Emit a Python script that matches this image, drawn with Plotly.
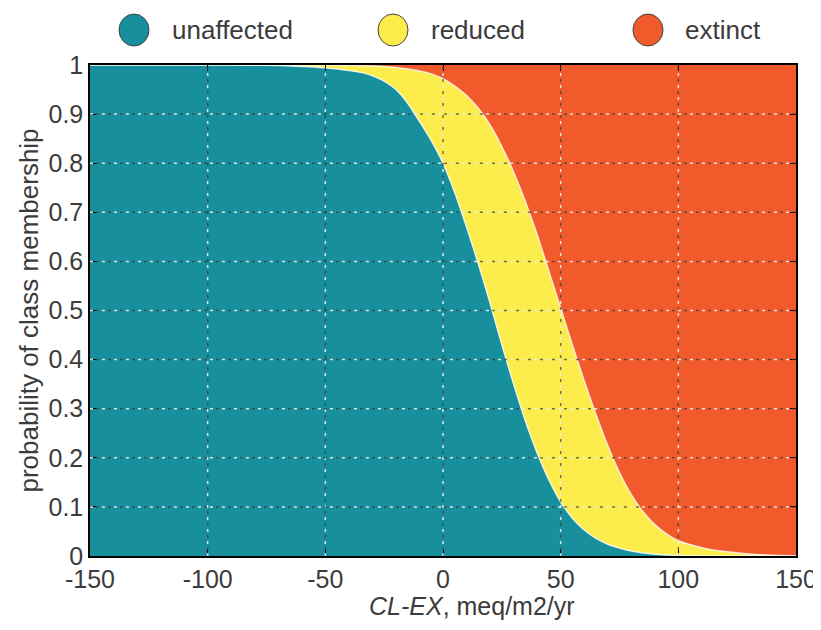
import plotly.graph_objects as go

# ---- data ----
x_vals = [-150, -100, -80, -70, -60, -55, -50, -45, -40, -35, -30, -25, -20, -15,
          -10, -5, 0, 5, 10, 15, 20, 25, 30, 35, 40, 45, 50, 55, 60, 65, 70, 75,
          80, 85, 90, 95, 100, 110, 120, 130, 140, 150]
p_unaffected = [1, 1, 0.9995, 0.999, 0.997, 0.996, 0.994, 0.992, 0.989, 0.985,
                0.978, 0.967, 0.95, 0.922, 0.885, 0.846, 0.80, 0.74, 0.67,
                0.595, 0.515, 0.43, 0.35, 0.275, 0.21, 0.155, 0.11, 0.077, 0.053,
                0.036, 0.024, 0.016, 0.01, 0.006, 0.0035, 0.002, 0.001,
                0, 0, 0, 0, 0]
p_reduced = [0, 0, 0.0005, 0.001, 0.003, 0.004, 0.0055, 0.0073, 0.01, 0.0135,
             0.02, 0.03, 0.045, 0.07, 0.103, 0.136, 0.172, 0.217, 0.268, 0.317,
             0.363, 0.404, 0.432, 0.447, 0.445, 0.425, 0.395, 0.353, 0.304, 0.252,
             0.201, 0.154, 0.115, 0.084, 0.0605, 0.043, 0.03, 0.017, 0.009, 0.004,
             0.0015, 0.0005]
p_extinct = [round(1 - u - r, 6) for u, r in zip(p_unaffected, p_reduced)]

class_names = ["unaffected", "reduced", "extinct"]
class_colors = ["#178f9c", "#fcec4c", "#f15a2a"]

x_ticks = [-150, -100, -50, 0, 50, 100, 150]
x_ticktext = ["-150", "-100", "-50", "0", "50", "100", "150"]
y_ticks = [0, 0.1, 0.2, 0.3, 0.4, 0.5, 0.6, 0.7, 0.8, 0.9, 1]
y_ticktext = ["0", "0.1", "0.2", "0.3", "0.4", "0.5", "0.6", "0.7", "0.8", "0.9", "1"]
x_title = "<i>CL-EX</i>, meq/m2/yr"
y_title = "probability of class membership"

FONT = "Liberation Sans, Arial, Helvetica, sans-serif"
TXT = "#3c3c3c"
FS = 25

fig = go.Figure()
series = [p_unaffected, p_reduced, p_extinct]
for i, (name, vals, col) in enumerate(zip(class_names, series, class_colors)):
    fig.add_trace(go.Scatter(
        x=x_vals, y=vals, name=name, stackgroup="one", mode="lines",
        line=dict(color="rgba(255,255,255,0.75)" if i < 2 else "rgba(0,0,0,0)",
                  width=1.5, shape="spline", smoothing=0.6),
        fillcolor=col, showlegend=False, hoverinfo="skip"))

# dotted grid drawn above the filled areas (light + dark dots alternating)
shapes = []
light = dict(color="rgba(235,240,240,0.9)", width=1.5, dash="3px,9px")
dark = dict(color="rgba(60,60,60,0.7)", width=1.5, dash="0px,6px,3px,3px")
for xv in x_ticks[1:-1]:
    for ln in (light, dark):
        shapes.append(dict(type="line", xref="x", yref="paper", x0=xv, x1=xv,
                           y0=0, y1=1, line=ln, layer="above"))
for yv in y_ticks[1:-1]:
    for ln in (light, dark):
        shapes.append(dict(type="line", xref="paper", yref="y", x0=0, x1=1,
                           y0=yv, y1=yv, line=ln, layer="above"))

# page has an 8px body margin: size figure so the plot area lands at
# x 90..796, y 65..556 of the 821x630 window
PAGE = 8
W, H = 813, 614
ML, MT, PW, PH = 82, 57, 706, 491
MR, MB = W - ML - PW, H - MT - PH
plot_left, plot_bottom = PAGE + ML, PAGE + MT + PH

legend_circle_px = [134, 393, 648]
legend_text_px = [170, 429, 683]
legend_y_px = 30
annotations = []
for name, col, cx, tx in zip(class_names, class_colors, legend_circle_px, legend_text_px):
    xp = (cx - plot_left) / PW
    yp = (plot_bottom - legend_y_px) / PH
    shapes.append(dict(type="circle", xref="paper", yref="paper",
                       xsizemode="pixel", ysizemode="pixel",
                       xanchor=xp, yanchor=yp, x0=-15, x1=15, y0=-16, y1=16,
                       fillcolor=col, line=dict(color="#444", width=1)))
    annotations.append(dict(xref="paper", yref="paper", x=(tx - plot_left) / PW, y=yp,
                            xanchor="left", yanchor="middle", text=name, showarrow=False,
                            font=dict(family=FONT, size=26, color=TXT)))

# x-axis title placed as an annotation (centred a bit right of the axis centre)
annotations.append(dict(xref="paper", yref="paper", x=(472 - plot_left) / PW,
                        y=(plot_bottom - 606) / PH, xanchor="center", yanchor="middle",
                        text=x_title, showarrow=False,
                        font=dict(family=FONT, size=FS, color=TXT)))

fig.update_layout(
    width=W, height=H,
    margin=dict(l=ML, r=MR, t=MT, b=MB, pad=0),
    paper_bgcolor="white", plot_bgcolor="white",
    font=dict(family=FONT, size=FS, color=TXT),
    showlegend=False,
    shapes=shapes, annotations=annotations,
    xaxis=dict(range=[-150, 150], tickvals=x_ticks, ticktext=x_ticktext,
               ticks="inside", ticklen=6, automargin=False,
               tickcolor="black", tickwidth=1.2, showline=True, linecolor="black",
               linewidth=1.5, mirror="ticks", showgrid=False, zeroline=False,
               layer="above traces", tickfont=dict(size=FS, color=TXT)),
    yaxis=dict(range=[0, 1], tickvals=y_ticks, ticktext=y_ticktext, ticks="inside",
               ticklen=6, tickcolor="black", tickwidth=1.2, showline=True,
               automargin=False,
               linecolor="black", linewidth=1.5, mirror="ticks", showgrid=False,
               zeroline=False, layer="above traces", tickfont=dict(size=FS, color=TXT),
               title=dict(text=y_title, standoff=2,
                          font=dict(size=26, color=TXT))),
)

fig.write_html("out.html")
